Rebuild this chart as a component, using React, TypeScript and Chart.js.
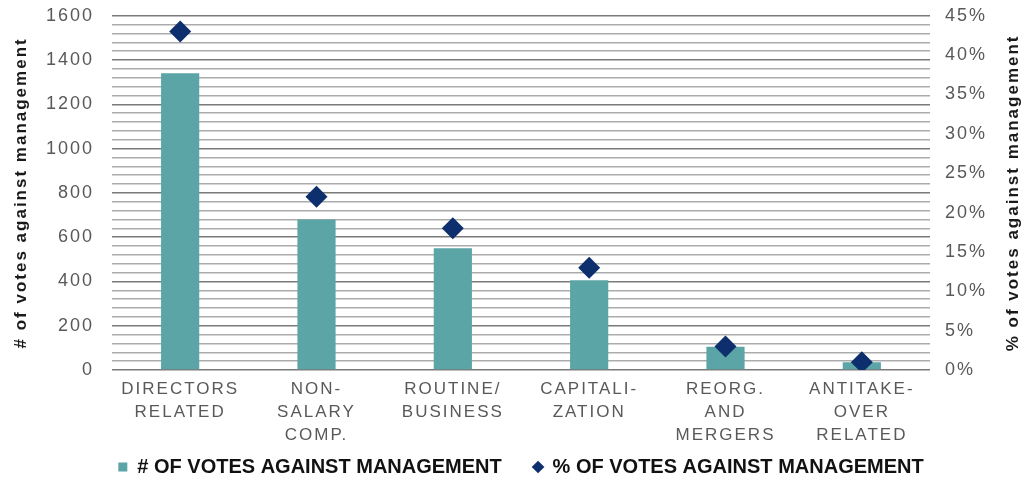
import React, { useEffect, useRef } from 'react';
import { Chart, registerables } from 'chart.js';

Chart.register(...registerables);

// ---- data ----
const categories: string[][] = [
  ['DIRECTORS', 'RELATED'],
  ['NON-', 'SALARY', 'COMP.'],
  ['ROUTINE/', 'BUSINESS'],
  ['CAPITALI-', 'ZATION'],
  ['REORG.', 'AND', 'MERGERS'],
  ['ANTITAKE-', 'OVER', 'RELATED'],
];
const votesAgainst = [1340, 680, 550, 405, 105, 35];
const pctAgainst = [43, 22, 18, 13, 3, 1];
const seriesNames = ['# OF VOTES AGAINST MANAGEMENT', '% OF VOTES AGAINST MANAGEMENT'];
const leftAxisTitle = '# of votes against management';
const rightAxisTitle = '% of votes against management';
const leftMax = 1600;
const leftMajorStep = 200;
const leftMinorStep = 40;
const rightMax = 45;
const rightStep = 5;

const TEAL = '#5ba5a6';
const NAVY = '#0d2f6d';
const TICK_COLOR = '#595959';
const TITLE_FONT = 'bold 17px "Liberation Sans", Arial, sans-serif';

const spacingPlugin = {
  id: 'letterSpacingPlugin',
  beforeDraw(chart: any) {
    const ctx = chart.ctx as any;
    ctx.letterSpacing = '2px';
    const lg = chart.legend;
    if (lg && !lg.__patched) {
      const orig = lg.draw;
      lg.draw = function (...args: any[]) {
        const prev = ctx.letterSpacing;
        ctx.letterSpacing = '0px';
        orig.apply(this, args);
        ctx.letterSpacing = prev;
      };
      lg.__patched = true;
    }
  },
  afterDraw(chart: any) {
    const ctx = chart.ctx as any;
    // right axis title, reading bottom-to-top
    const area = chart.chartArea;
    ctx.save();
    ctx.letterSpacing = '2px';
    ctx.font = TITLE_FONT;
    ctx.fillStyle = '#1a1a1a';
    ctx.textAlign = 'center';
    ctx.textBaseline = 'middle';
    ctx.translate(1013, (area.top + area.bottom) / 2);
    ctx.rotate(-Math.PI / 2);
    ctx.fillText(rightAxisTitle, 0, 0);
    ctx.restore();
    ctx.letterSpacing = '0px';
  },
};

export default function App() {
  const canvasRef = useRef<HTMLCanvasElement | null>(null);

  useEffect(() => {
    if (!canvasRef.current) return;
    const chart = new Chart(canvasRef.current, {
      type: 'bar',
      data: {
        labels: categories,
        datasets: [
          {
            type: 'bar',
            label: seriesNames[0] + '     ',
            data: votesAgainst,
            backgroundColor: TEAL,
            borderWidth: 0,
            yAxisID: 'y',
            barPercentage: 0.28,
            categoryPercentage: 1,
            order: 2,
            pointStyle: 'rect',
          } as any,
          {
            type: 'line',
            label: seriesNames[1],
            data: pctAgainst,
            yAxisID: 'y1',
            showLine: false,
            pointStyle: 'rectRot',
            pointRadius: 11,
            pointHoverRadius: 11,
            pointBackgroundColor: NAVY,
            pointBorderWidth: 0,
            backgroundColor: NAVY,
            borderColor: NAVY,
            borderWidth: 0,
            order: 1,
          } as any,
        ],
      },
      options: {
        animation: false,
        responsive: true,
        maintainAspectRatio: false,
        layout: { padding: { top: 0, left: 4, right: 0, bottom: -7 } },
        plugins: {
          tooltip: { enabled: false },
          legend: {
            position: 'bottom',
            fullSize: false,
            labels: {
              usePointStyle: true,
              boxWidth: 9,
              boxHeight: 9,
              padding: 4,
              color: '#111111',
              sort: (a: any, b: any) => a.datasetIndex - b.datasetIndex,
              font: { family: '"Liberation Sans", Arial, sans-serif', size: 20, weight: 'bold', lineHeight: 1 },
            },
          },
        },
        scales: {
          x: {
            grid: { display: false },
            border: { display: false },
            ticks: {
              maxRotation: 0,
              minRotation: 0,
              autoSkip: false,
              padding: 0,
              color: TICK_COLOR,
              font: { family: '"Liberation Sans", Arial, sans-serif', size: 17, lineHeight: 1.35 },
            },
            afterFit: (s: any) => { s.height = 83; },
          },
          y: {
            position: 'left',
            min: 0,
            max: leftMax,
            border: { display: false },
            grid: {
              drawTicks: true,
              tickLength: 13,
              tickColor: 'rgba(0,0,0,0)',
              color: (c: any) => (c.tick && c.tick.value % leftMajorStep === 0 ? '#7a7a7a' : '#ababab'),
              lineWidth: 1.5,
            },
            ticks: {
              stepSize: leftMinorStep,
              autoSkip: false,
              padding: 5,
              color: TICK_COLOR,
              font: { family: '"Liberation Sans", Arial, sans-serif', size: 18 },
              callback: (v: any) => (Number(v) % leftMajorStep === 0 ? String(v) : ''),
            },
            title: {
              display: true,
              text: leftAxisTitle,
              color: '#1a1a1a',
              padding: { top: 7, bottom: 0 },
              font: { family: '"Liberation Sans", Arial, sans-serif', size: 17, weight: 'bold' },
            },
            afterFit: (s: any) => { s.width = 108; },
          },
          y1: {
            position: 'right',
            min: 0,
            max: rightMax,
            border: { display: false },
            grid: {
              display: true,
              drawOnChartArea: false,
              drawTicks: true,
              tickLength: 10,
              tickColor: 'rgba(0,0,0,0)',
              color: 'rgba(0,0,0,0)',
            },
            ticks: {
              stepSize: rightStep,
              padding: 5,
              color: TICK_COLOR,
              font: { family: '"Liberation Sans", Arial, sans-serif', size: 18 },
              callback: (v: any) => `${v}%`,
            },
            afterFit: (s: any) => { s.width = 94; },
          },
        },
      },
      plugins: [spacingPlugin as any],
    });
    return () => chart.destroy();
  }, []);

  return (
    <div style={{ position: 'absolute', left: 0, top: 0, width: 1024, height: 480, background: '#ffffff' }}>
      <canvas ref={canvasRef} />
    </div>
  );
}
